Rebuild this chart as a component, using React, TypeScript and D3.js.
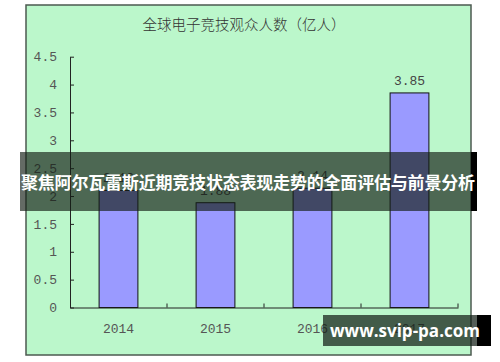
import { axisBottom, axisLeft, scaleBand, scaleLinear, select } from 'd3'
import { useEffect, useRef } from 'react'

const years = ['2014', '2015', '2016', '2017']
const viewers = [2.1, 1.88, 2.14, 3.85]
const yTicks = [0, 0.5, 1, 1.5, 2, 2.5, 3, 3.5, 4, 4.5]
const chartTitle = '全球电子竞技观众人数（亿人）'
const bannerText = '聚焦阿尔瓦雷斯近期竞技状态表现走势的全面评估与前景分析'
const watermark = 'www.svip-pa.com'

export default function App() {
  const svgRef = useRef<SVGSVGElement>(null)

  useEffect(() => {
    const svg = select(svgRef.current)
    svg.selectAll('*').remove()

    const monoFont = '"Liberation Mono", "DejaVu Sans Mono", monospace'
    const cjkFont = '"Noto Sans CJK SC", sans-serif'

    // chart frame
    svg
      .append('rect')
      .attr('x', 26)
      .attr('y', 5)
      .attr('width', 445)
      .attr('height', 350)
      .attr('fill', '#bbf7cb')
      .attr('stroke', '#4c5a50')
      .attr('stroke-width', 1.5)

    svg
      .append('text')
      .attr('x', 244)
      .attr('y', 30)
      .attr('text-anchor', 'middle')
      .attr('font-family', cjkFont)
      .attr('font-size', 14.5)
      .attr('font-weight', 300)
      .attr('fill', '#333')
      .text(chartTitle)

    const x = scaleBand().domain(years).range([70, 458]).paddingInner(0.6).paddingOuter(0.3)
    const y = scaleLinear().domain([0, 4.5]).range([307.5, 56.7])

    // Y axis (ticks point inward)
    const yAxis = svg
      .append('g')
      .attr('transform', 'translate(70,0)')
      .call(axisLeft(y).tickValues(yTicks).tickSize(-4).tickSizeOuter(0).tickPadding(13).tickFormat((d: any) => String(d)))
    yAxis.select('.domain').attr('stroke', '#222')
    yAxis.selectAll('.tick line').attr('stroke', '#222')
    yAxis
      .selectAll('.tick text')
      .attr('font-family', monoFont)
      .attr('font-size', 13)
      .attr('fill', '#555')

    // bars
    svg
      .selectAll('rect.bar')
      .data(years)
      .enter()
      .append('rect')
      .attr('class', 'bar')
      .attr('x', (d) => x(d) as number)
      .attr('y', (_d, i) => y(viewers[i]))
      .attr('width', x.bandwidth())
      .attr('height', (_d, i) => y(0) - y(viewers[i]))
      .attr('fill', '#9a9aff')
      .attr('stroke', '#111')
      .attr('stroke-width', 1)

    svg
      .selectAll('text.val')
      .data(years)
      .enter()
      .append('text')
      .attr('class', 'val')
      .attr('x', (d) => (x(d) as number) + x.bandwidth() / 2)
      .attr('y', (_d, i) => y(viewers[i]) - 8)
      .attr('text-anchor', 'middle')
      .attr('font-family', monoFont)
      .attr('font-size', 13)
      .attr('fill', '#444')
      .text((_d, i) => viewers[i].toFixed(2))

    // X axis with category boundary ticks
    const xAxis = svg
      .append('g')
      .attr('transform', 'translate(0,307.5)')
      .call(axisBottom(x).tickSize(0).tickPadding(16))
    xAxis.select('.domain').attr('stroke', '#222')
    xAxis
      .selectAll('.tick text')
      .attr('font-family', monoFont)
      .attr('font-size', 13)
      .attr('fill', '#555')
    const step = x.step()
    xAxis
      .selectAll('line.bound')
      .data(years)
      .enter()
      .append('line')
      .attr('class', 'bound')
      .attr('x1', (d) => (x(d) as number) + x.bandwidth() / 2 + step / 2)
      .attr('x2', (d) => (x(d) as number) + x.bandwidth() / 2 + step / 2)
      .attr('y1', 0)
      .attr('y2', -4)
      .attr('stroke', '#222')

    // overlay banner
    svg.append('rect').attr('x', 471).attr('y', 152).attr('width', 6).attr('height', 59).attr('fill', '#000')
    svg
      .append('rect')
      .attr('x', 20)
      .attr('y', 152)
      .attr('width', 451)
      .attr('height', 59)
      .attr('fill', 'rgba(20,30,22,0.66)')
    svg
      .append('text')
      .attr('x', 248)
      .attr('y', 189)
      .attr('text-anchor', 'middle')
      .attr('font-family', cjkFont)
      .attr('font-size', 17)
      .attr('font-weight', 700)
      .attr('fill', '#fff')
      .attr('textLength', 454)
      .text(bannerText)

    // watermark
    svg.append('rect').attr('x', 477).attr('y', 315).attr('width', 14).attr('height', 31).attr('fill', '#000')
    svg
      .append('rect')
      .attr('x', 323)
      .attr('y', 315)
      .attr('width', 154)
      .attr('height', 31)
      .attr('fill', 'rgba(20,30,22,0.72)')
    svg
      .append('text')
      .attr('x', 405)
      .attr('y', 337)
      .attr('text-anchor', 'middle')
      .attr('font-family', '"Open Sans", "Noto Sans", sans-serif')
      .attr('font-size', 17)
      .attr('font-weight', 700)
      .attr('fill', '#fff')
      .text(watermark)
  }, [])

  return (
    <svg
      ref={svgRef}
      width={500}
      height={362}
      style={{ position: 'absolute', left: 0, top: 0, background: '#fff' }}
    />
  )
}
